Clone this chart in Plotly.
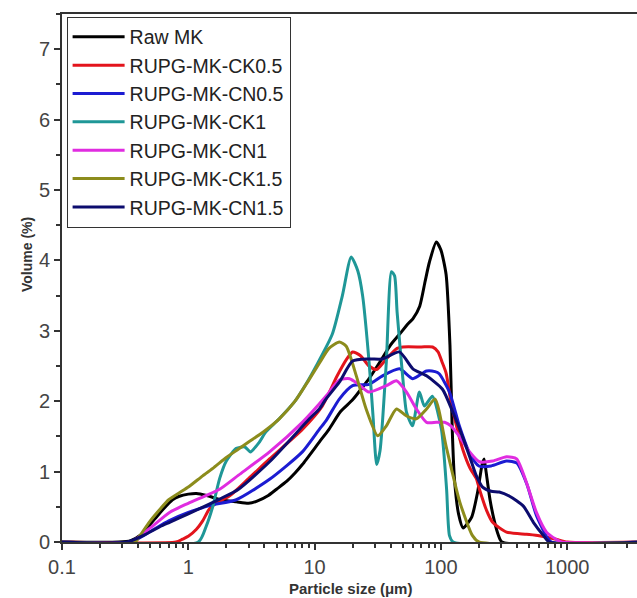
import plotly.graph_objects as go

# ---------------- data (particle size in µm, volume in %) ----------------
raw_mk_size = [0.1, 0.28, 0.35, 0.42, 0.5, 0.6, 0.75, 0.85, 1.0, 1.16, 1.4, 1.8, 2.4, 3.0, 3.5, 4.3,
               5.0, 6.0, 7.0, 8.0, 10.9, 13, 16, 20, 24, 27, 33, 40, 47, 55, 60, 68, 75, 81, 92, 100,
               110, 118, 123, 128, 138, 150, 175, 195, 212, 220, 228, 245, 265, 285, 305, 4000]
raw_mk_vol = [0, 0, 0.02, 0.1, 0.25, 0.42, 0.6, 0.65, 0.68, 0.69, 0.66, 0.6, 0.57, 0.55, 0.58, 0.66,
              0.75, 0.86, 0.98, 1.1, 1.42, 1.6, 1.85, 2.02, 2.2, 2.32, 2.56, 2.8, 2.95, 3.1, 3.17, 3.35, 3.7, 3.97,
              4.26, 4.15, 3.8, 2.8, 1.6, 0.9, 0.4, 0.2, 0.35, 0.7, 1.1, 1.18, 1.0, 0.6, 0.3, 0.1, 0, 0]

ck05_size = [0.1, 0.8, 0.9, 1.0, 1.16, 1.3, 1.47, 1.7, 2.14, 3.0, 4.4, 8.0, 11.5, 15, 18, 20, 23, 27, 31,
             37, 45, 50, 70, 86, 95, 102, 110, 120, 135, 150, 170, 191, 202, 230, 257, 331, 478, 600,
             815, 1000, 4000]
ck05_vol = [0, 0, 0.04, 0.08, 0.18, 0.3, 0.47, 0.56, 0.66, 0.9, 1.18, 1.6, 1.93, 2.35, 2.6, 2.7, 2.65, 2.5, 2.45,
            2.6, 2.75, 2.77, 2.77, 2.77, 2.7, 2.56, 2.4, 2.0, 1.6, 1.3, 1.05, 0.9, 0.75, 0.45, 0.28, 0.14, 0.11, 0.09,
            0.04, 0, 0]

cn05_size = [0.1, 0.35, 0.5, 0.7, 1.0, 1.5, 2.4, 4.4, 8.0, 10.9, 12.3, 15.7, 20, 27, 34.5, 47, 60, 77, 90,
             97, 117, 140, 170, 200, 250, 330, 400, 480, 570, 690, 750, 4000]
cn05_vol = [0, 0, 0.15, 0.3, 0.42, 0.52, 0.6, 0.89, 1.28, 1.6, 1.72, 2.03, 2.22, 2.24, 2.36, 2.46, 2.32, 2.43, 2.42,
            2.39, 2.13, 1.65, 1.25, 1.08, 1.08, 1.15, 1.12, 0.82, 0.38, 0.07, 0, 0]

ck1_size = [0.1, 1.2, 1.39, 1.56, 1.77, 2.0, 2.4, 2.8, 3.1, 3.66, 4.1, 5.25, 7, 8.6, 10.3, 13.8, 16.6, 19.5,
            22, 24, 27, 29, 31, 33, 37, 40.6, 43, 45, 50, 53.5, 59.6, 67.6, 74, 85.7, 101, 111, 117, 125, 4000]
ck1_vol = [0, 0, 0.23, 0.5, 0.9, 1.15, 1.33, 1.35, 1.28, 1.42, 1.56, 1.75, 2.0, 2.25, 2.5, 2.95, 3.5, 4.05,
           3.85, 3.5, 2.56, 1.8, 1.1, 1.3, 2.56, 3.84, 3.78, 3.27, 2.32, 1.84, 1.65, 2.13, 1.93, 2.07, 1.6, 0.75, 0.09, 0, 0]

cn1_size = [0.1, 0.35, 0.5, 0.71, 1.0, 1.77, 2.5, 4.4, 8.0, 12.3, 15.7, 18.9, 22, 27, 37, 44.5, 53.5, 64,
            77, 92, 107, 120, 140, 169, 202, 257, 331, 398, 475, 571, 686, 815, 900, 4000]
cn1_vol = [0, 0, 0.2, 0.42, 0.55, 0.75, 0.95, 1.28, 1.7, 2.07, 2.3, 2.32, 2.25, 2.13, 2.22, 2.29, 2.13, 1.89,
           1.7, 1.7, 1.7, 1.65, 1.5, 1.28, 1.14, 1.15, 1.21, 1.18, 0.85, 0.42, 0.14, 0.04, 0, 0]

ck15_size = [0.1, 0.38, 0.41, 0.5, 0.6, 0.7, 0.85, 1.0, 1.3, 1.6, 2.0, 2.5, 3.0, 3.9, 5.25, 7, 9, 11, 13,
             15.7, 17.8, 21.4, 25.6, 31.6, 37, 44.5, 53.5, 64, 77, 90, 110, 141, 178, 200, 4000]
ck15_vol = [0, 0, 0.08, 0.3, 0.47, 0.6, 0.7, 0.78, 0.94, 1.06, 1.2, 1.32, 1.42, 1.56, 1.75, 2.0, 2.3, 2.55, 2.75,
            2.84, 2.78, 2.36, 1.89, 1.51, 1.65, 1.89, 1.79, 1.75, 1.89, 2.03, 1.36, 0.57, 0.09, 0, 0]

cn15_size = [0.1, 0.33, 0.45, 0.6, 0.71, 1.0, 1.77, 2.5, 4.4, 9.1, 10.9, 12.3, 15.7, 20, 27, 34.5, 47, 60,
             77, 103, 124, 148, 170, 190, 214, 250, 290, 350, 450, 540, 650, 720, 4000]
cn15_vol = [0, 0, 0.1, 0.22, 0.28, 0.4, 0.61, 0.75, 1.14, 1.75, 1.89, 2.03, 2.27, 2.57, 2.6, 2.6, 2.7, 2.46,
            2.36, 2.17, 1.85, 1.5, 1.2, 0.95, 0.78, 0.72, 0.71, 0.65, 0.51, 0.28, 0.09, 0, 0]

series = [
    ("Raw MK", raw_mk_size, raw_mk_vol, "#000000"),
    ("RUPG-MK-CK0.5", ck05_size, ck05_vol, "#e3141c"),
    ("RUPG-MK-CN0.5", cn05_size, cn05_vol, "#1c1cd2"),
    ("RUPG-MK-CK1", ck1_size, ck1_vol, "#1f9797"),
    ("RUPG-MK-CN1", cn1_size, cn1_vol, "#e02ce0"),
    ("RUPG-MK-CK1.5", ck15_size, ck15_vol, "#8c8c1c"),
    ("RUPG-MK-CN1.5", cn15_size, cn15_vol, "#0c0c6e"),
]

x_tick_vals = [0.1, 1, 10, 100, 1000]
x_tick_text = ["0.1", "1", "10", "100", "1000"]
y_tick_vals = [0, 1, 2, 3, 4, 5, 6, 7]

fig = go.Figure()
for name, xs, ys, col in series:
    fig.add_trace(go.Scatter(x=xs, y=ys, name=name, mode="lines",
                             line=dict(color=col, width=3, shape="spline", smoothing=0.6)))

minor_x = [m * 10.0 ** e for e in range(-1, 4) for m in range(2, 10)]

axis_col = "#333333"
font_fam = "Liberation Sans, Arial, sans-serif"
tick_font = dict(family=font_fam, size=20, color="#444444")

pw, ph = 637 - 62 - 0, 598 - 14 - 56

fig.update_layout(
    width=637, height=598,
    margin=dict(l=62, r=0, t=14, b=56),
    paper_bgcolor="white", plot_bgcolor="white",
    showlegend=True,
    legend=dict(x=0.008, y=0.995, xanchor="left", yanchor="top",
                bgcolor="white", bordercolor="#333333", borderwidth=1,
                font=dict(family=font_fam, size=19.5, color="#222222"),
                tracegroupgap=0, itemwidth=52,
                entrywidth=238, entrywidthmode="pixels"),
    xaxis=dict(type="log", range=[-1, 3.553],
               tickvals=x_tick_vals, ticktext=x_tick_text,
               ticks="outside", ticklen=6, tickwidth=2, tickcolor=axis_col,
               showline=True, linewidth=2, linecolor=axis_col, mirror=True,
               showgrid=False, zeroline=False, tickfont=tick_font,
               minor=dict(tickvals=minor_x, ticks="outside", ticklen=4, tickwidth=1.5,
                          tickcolor=axis_col, showgrid=False)),
    yaxis=dict(range=[0, 7.5], tickvals=y_tick_vals,
               ticks="outside", ticklen=6, tickwidth=2, tickcolor=axis_col,
               showline=True, linewidth=2, linecolor=axis_col, mirror=False,
               showgrid=False, zeroline=False, tickfont=tick_font,
               minor=dict(dtick=0.5, ticks="outside", ticklen=4, tickwidth=1.5,
                          tickcolor=axis_col, showgrid=False)),
    annotations=[
        dict(text="<b>Volume (%)</b>", x=(27 - 62) / pw, y=(598 - 56 - 255) / ph,
             xref="paper", yref="paper", xanchor="center", yanchor="middle",
             showarrow=False, textangle=-90,
             font=dict(family=font_fam, size=14, color="#333333")),
        dict(text="<b>Particle size (μm)</b>", x=(350 - 62) / pw, y=(598 - 56 - 588) / ph,
             xref="paper", yref="paper", xanchor="center", yanchor="middle",
             showarrow=False,
             font=dict(family=font_fam, size=15, color="#333333")),
    ],
)

fig.write_html("out.html")
